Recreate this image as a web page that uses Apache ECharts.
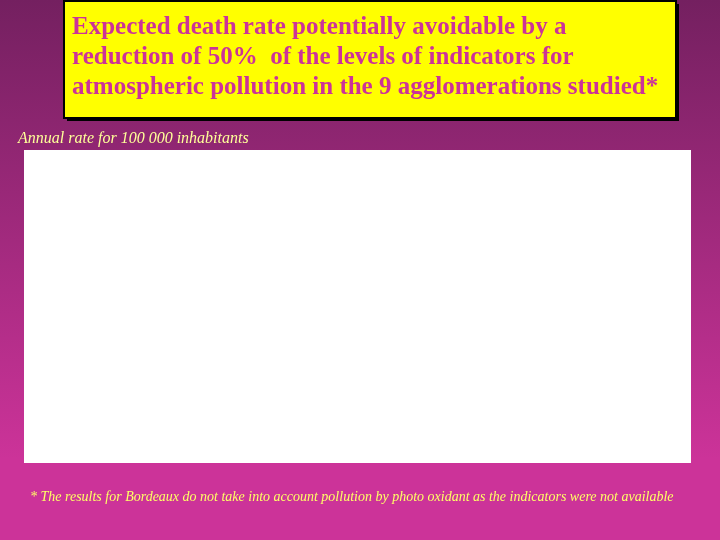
<!DOCTYPE html>
<html>
<head>
<meta charset="utf-8">
<script src="https://cdn.jsdelivr.net/npm/echarts@6/dist/echarts.min.js"></script>
<style>html,body{margin:0;padding:0;}#c{width:720px;height:540px;}</style>
</head>
<body>
<div id="c"></div>
<script>
// The chart area in the reference is blank: no categories or values are drawn.
const categories = [];
const values = [];
const titleLines = [
  'Expected death rate potentially avoidable by a',
  'reduction of 50%  of the levels of indicators for',
  'atmospheric pollution in the 9 agglomerations studied*'
];
const subtitle = 'Annual rate for 100 000 inhabitants';
const footnote = '* The results for Bordeaux do not take into account pollution by photo oxidant as the indicators were not available';

const chart = echarts.init(document.getElementById('c'));
const serif = '"Liberation Serif", "DejaVu Serif", serif';
chart.setOption({
  backgroundColor: {
    type: 'linear', x: 0, y: 0, x2: 0, y2: 1,
    colorStops: [
      { offset: 0, color: '#742060' },
      { offset: 0.85, color: '#cc3399' },
      { offset: 1, color: '#cc3399' }
    ]
  },
  animation: false,
  grid: { left: 24, right: 29, top: 150, bottom: 77, show: true, backgroundColor: '#ffffff', borderWidth: 0 },
  xAxis: { type: 'category', data: categories, show: false },
  yAxis: { type: 'value', show: false },
  series: [{ type: 'bar', data: values }],
  graphic: [
    { type: 'rect', shape: { x: 67, y: 4, width: 612, height: 117 }, style: { fill: '#000000' }, z: 9 },
    { type: 'rect', shape: { x: 64, y: 1, width: 612, height: 117 }, style: { fill: '#ffff00', stroke: '#000000', lineWidth: 2 }, z: 10 },
    ...titleLines.map((t, i) => ({
      type: 'text', left: 72, top: 15 + i * 30, z: 11,
      style: { text: t, fill: '#cc3399', font: 'bold 25px ' + serif,
               textShadowColor: 'rgba(120,120,0,0.5)', textShadowOffsetX: 1, textShadowOffsetY: 1 }
    })),
    { type: 'text', left: 18, top: 131, z: 11,
      style: { text: subtitle, fill: '#ffff99', font: 'italic 16px ' + serif } },
    { type: 'text', left: 30, top: 490, z: 11,
      style: { text: footnote, fill: '#ffff66', font: 'italic 14px ' + serif } }
  ]
});
</script>
</body>
</html>
